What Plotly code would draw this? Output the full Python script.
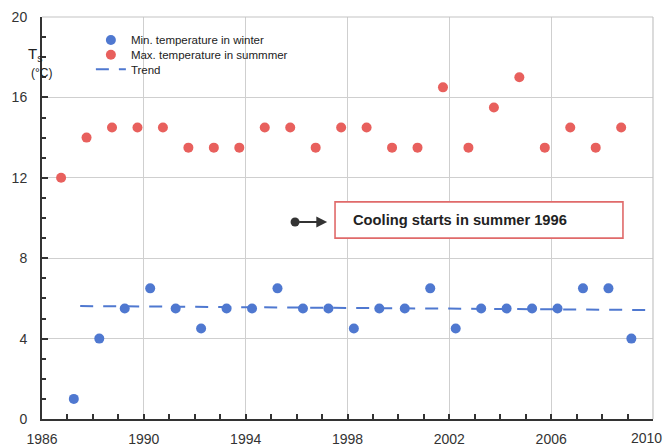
import plotly.graph_objects as go

# Summer maxima and winter minima of soil temperature, 1986-2009
summer_years = [1986.75, 1987.75, 1988.75, 1989.75, 1990.75, 1991.75, 1992.75, 1993.75,
                1994.75, 1995.75, 1996.75, 1997.75, 1998.75, 1999.75, 2000.75, 2001.75,
                2002.75, 2003.75, 2004.75, 2005.75, 2006.75, 2007.75, 2008.75]
summer_max = [12, 14, 14.5, 14.5, 14.5, 13.5, 13.5, 13.5,
              14.5, 14.5, 13.5, 14.5, 14.5, 13.5, 13.5, 16.5,
              13.5, 15.5, 17, 13.5, 14.5, 13.5, 14.5]

winter_years = [1987.25, 1988.25, 1989.25, 1990.25, 1991.25, 1992.25, 1993.25, 1994.25,
                1995.25, 1996.25, 1997.25, 1998.25, 1999.25, 2000.25, 2001.25, 2002.25,
                2003.25, 2004.25, 2005.25, 2006.25, 2007.25, 2008.25, 2009.15]
winter_min = [1, 4, 5.5, 6.5, 5.5, 4.5, 5.5, 5.5,
              6.5, 5.5, 5.5, 4.5, 5.5, 5.5, 6.5, 4.5,
              5.5, 5.5, 5.5, 5.5, 6.5, 6.5, 4]

trend_years = [1987.5, 2010]
trend_vals = [5.62, 5.42]

# start of the cooling period and the note box beside it
marker_year = [1995.94]
marker_val = [9.8]
note_box_x = [1997.51, 2008.82]
note_box_y = [9.0, 10.8]
note_text = "Cooling starts in summer 1996"

# the last year label sits flush with the right edge, drawn separately
x_ticks = [1986, 1990, 1994, 1998, 2002, 2006, 2010]
x_tick_labels = ["1986", "1990", "1994", "1998", "2002", "2006", ""]
x_last_label = "2010"
y_ticks = [0, 4, 8, 12, 16, 20]

BLUE = "#4f78d0"
RED = "#e8605d"
FONT = "Liberation Sans, Arial, sans-serif"

fig = go.Figure()
fig.add_trace(go.Scatter(x=winter_years, y=winter_min, mode="markers",
                         name="Min. temperature in winter", legend="legend",
                         marker=dict(color=BLUE, size=10)))
fig.add_trace(go.Scatter(x=summer_years, y=summer_max, mode="markers",
                         name="Max. temperature in summmer", legend="legend2",
                         marker=dict(color=RED, size=10)))
fig.add_trace(go.Scatter(x=trend_years, y=trend_vals, mode="lines", name="Trend",
                         legend="legend3",
                         line=dict(color=BLUE, width=2, dash="13px,10px")))
fig.add_trace(go.Scatter(x=marker_year, y=marker_val, mode="markers", showlegend=False,
                         marker=dict(color="#333333", size=9)))

# arrow from the dot towards the note box
fig.add_annotation(x=1997.2, y=marker_val[0], ax=marker_year[0] + 0.1, ay=marker_val[0],
                   xref="x", yref="y", axref="x", ayref="y", text="", showarrow=True,
                   arrowhead=2, arrowsize=1.2, arrowwidth=1.8, arrowcolor="#333333")

fig.add_shape(type="rect", xref="x", yref="y",
              x0=note_box_x[0], x1=note_box_x[1], y0=note_box_y[0], y1=note_box_y[1],
              line=dict(color="#e06a6a", width=1.6), fillcolor="white", layer="above")
fig.add_annotation(x=1998.12, y=9.92, xref="x", yref="y", xanchor="left",
                   showarrow=False, text="<b>" + note_text + "</b>",
                   font=dict(family=FONT, size=14.7, color="#222222"))

# axis title
fig.add_annotation(x=-0.027, y=0.935, xref="paper", yref="paper", showarrow=False,
                   text="T<sub>s</sub>", font=dict(family=FONT, size=15, color="#222222"))
fig.add_annotation(x=-0.022, y=0.883, xref="paper", yref="paper", showarrow=False,
                   text="(°C)", font=dict(family=FONT, size=12, color="#222222"))

# last x tick label
fig.add_annotation(x=x_ticks[-1], y=0, xref="x", yref="paper", xanchor="right",
                   yanchor="top", xshift=11, yshift=-9, showarrow=False,
                   text=x_last_label, font=dict(family=FONT, size=14, color="#333333"))

# gray frame on top and right
fig.add_shape(type="line", xref="paper", yref="paper", x0=0, x1=1, y0=1, y1=1,
              line=dict(color="#c4c4c4", width=1.2))
fig.add_shape(type="line", xref="paper", yref="paper", x0=1, x1=1, y0=0, y1=1,
              line=dict(color="#c4c4c4", width=1.2))

fig.update_xaxes(range=[1986, 2010], tickmode="array",
                 tickvals=x_ticks, ticktext=x_tick_labels,
                 showgrid=True, gridcolor="#cfcfcf", gridwidth=1,
                 showline=True, linecolor="#333333", linewidth=2,
                 ticks="inside", ticklen=5, tickcolor="#333333", tickwidth=1.5,
                 minor=dict(dtick=1, tick0=1986, ticks="inside", ticklen=5,
                            tickcolor="#333333", tickwidth=1.5, showgrid=False),
                 zeroline=False, ticklabelstandoff=6, automargin=False,
                 ticklabeloverflow="allow",
                 tickfont=dict(family=FONT, size=14, color="#333333"))
fig.update_yaxes(range=[0, 20], tickmode="array", tickvals=y_ticks,
                 showgrid=True, gridcolor="#cfcfcf", gridwidth=1,
                 showline=True, linecolor="#333333", linewidth=2,
                 ticks="inside", ticklen=6, tickcolor="#333333", tickwidth=1.5,
                 minor=dict(dtick=1, tick0=0, ticks="inside", ticklen=4,
                            tickcolor="#333333", tickwidth=1.5, showgrid=False),
                 zeroline=False, ticklabelstandoff=10, automargin=False,
                 ticklabeloverflow="allow",
                 tickfont=dict(family=FONT, size=14, color="#333333"))

legend_style = dict(x=0.08, xanchor="left", yanchor="middle",
                    bgcolor="rgba(0,0,0,0)",
                    font=dict(family=FONT, size=11.5, color="#222222"))
fig.update_layout(width=667, height=448, margin=dict(l=42, r=14, t=17, b=29),
                  paper_bgcolor="white", plot_bgcolor="white",
                  legend=dict(y=0.943, **legend_style),
                  legend2=dict(y=0.906, **legend_style),
                  legend3=dict(y=0.870, **legend_style))

fig.write_html("out.html")
